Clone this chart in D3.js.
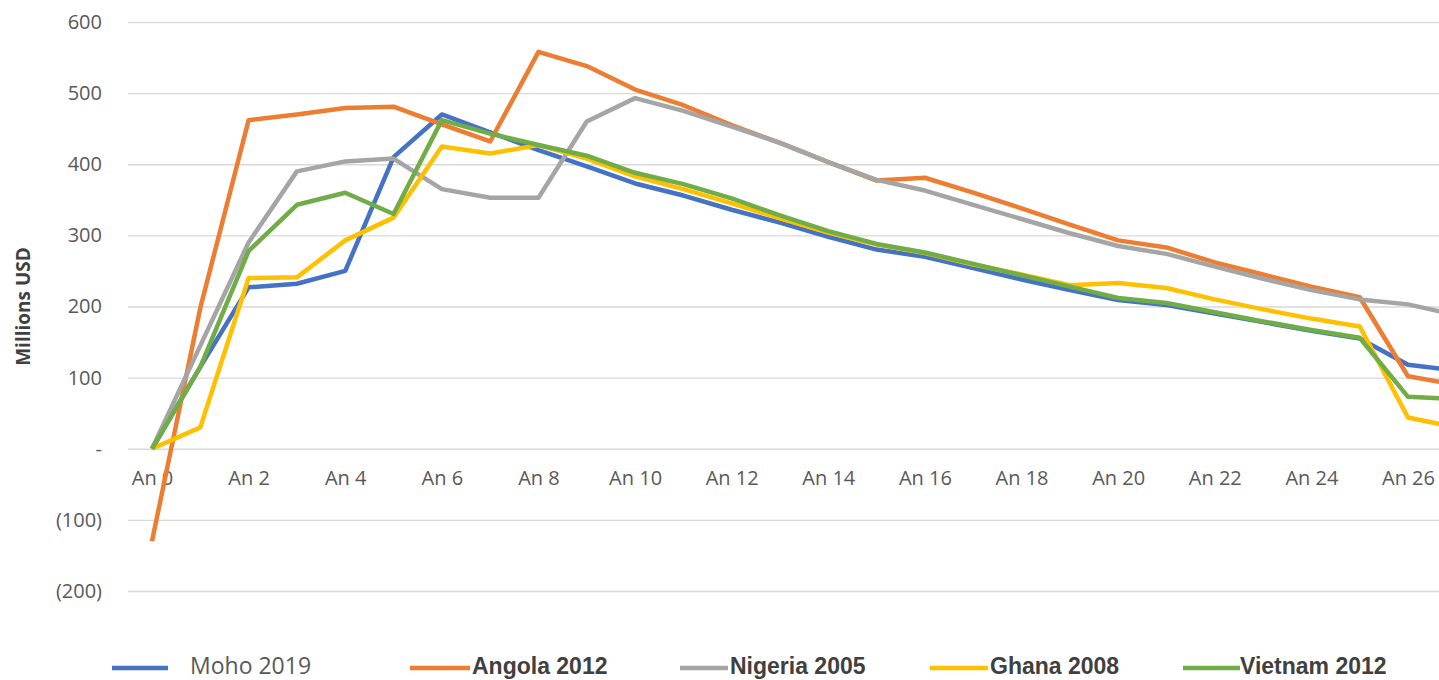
<!DOCTYPE html>
<html>
<head>
<meta charset="utf-8">
<script src="https://cdn.jsdelivr.net/npm/d3@7"></script>
<style>
  body { margin: 0; background: #fff; }
  svg { display: block; font-family: "Liberation Sans Narrow", "Open Sans", sans-serif; }
</style>
</head>
<body>
<div id="chart"></div>
<script>
// years An 0 .. An 27 (last one runs past the right edge)
var years = d3.range(0, 28);
var yTicks = [-200, -100, 0, 100, 200, 300, 400, 500, 600];
var xTicks = d3.range(0, 27, 2);

var seriesNames = ["Moho 2019", "Angola 2012", "Nigeria 2005", "Ghana 2008", "Vietnam 2012"];
var seriesColors = ["#4472C4", "#ED7D31", "#A5A5A5", "#FFC000", "#70AD47"];

var moho = [0, 115, 227, 232, 250, 410, 470, 445, 420, 397, 373, 356, 336, 318, 298, 280, 270, 254, 238, 223, 209, 202, 190, 178, 166, 155, 118, 110];
var angola = [-130, 198, 462, 470, 479, 481, 456, 432, 558, 538, 505, 483, 455, 430, 403, 377, 381, 360, 338, 315, 293, 283, 262, 245, 228, 213, 102, 90];
var nigeria = [0, 145, 290, 390, 404, 408, 365, 353, 353, 460, 493, 475, 453, 430, 403, 378, 363, 343, 323, 303, 285, 274, 256, 239, 223, 210, 203, 188];
var ghana = [0, 30, 240, 241, 293, 325, 425, 415, 427, 408, 383, 365, 345, 324, 304, 287, 275, 259, 245, 230, 233, 226, 210, 196, 183, 172, 44, 30];
var vietnam = [0, 115, 278, 343, 360, 330, 462, 443, 427, 412, 388, 372, 352, 328, 306, 288, 276, 260, 244, 228, 212, 205, 192, 179, 167, 156, 73, 70];

var seriesValues = [moho, angola, nigeria, ghana, vietnam];

var width = 1439, height = 680;

var svg = d3.select("#chart")
  .append("svg")
  .attr("width", width)
  .attr("height", height);

var x = d3.scaleLinear()
  .domain([0, 26])
  .range([152, 1408]);

var y = d3.scaleLinear()
  .domain([-200, 600])
  .range([591, 22]);

var textColor = "#595959";

// gridlines + y labels
var yAxis = svg.append("g")
  .attr("transform", "translate(128,0)")
  .call(d3.axisLeft(y)
    .tickValues(yTicks)
    .tickSize(-(width - 128))
    .tickPadding(26)
    .tickFormat(function (d) {
      if (d === 0) return "-";
      if (d < 0) return "(" + Math.abs(d) + ")";
      return d;
    }));
yAxis.select(".domain").remove();
yAxis.selectAll("line").attr("stroke", "#D9D9D9").attr("stroke-width", 1.3);
yAxis.selectAll("text")
  .attr("fill", textColor)
  .style("font-family", "'Open Sans', sans-serif")
  .style("font-size", "20px");

// x labels
var xAxis = svg.append("g")
  .attr("transform", "translate(0," + y(0) + ")")
  .call(d3.axisBottom(x).tickValues(xTicks).tickSize(0).tickPadding(22)
    .tickFormat(function (d) { return "An " + d; }));
xAxis.select(".domain").remove();
xAxis.selectAll("text")
  .attr("fill", textColor)
  .style("font-family", "'Open Sans', sans-serif")
  .style("font-size", "20px");

// y axis title
svg.append("text")
  .attr("transform", "translate(30," + y(200) + ") rotate(-90)")
  .attr("text-anchor", "middle")
  .attr("fill", "#404040")
  .style("font-family", "'Open Sans', sans-serif")
  .style("font-weight", "bold")
  .style("font-size", "19px")
  .text("Millions USD");

// lines
var line = d3.line()
  .x(function (d, i) { return x(years[i]); })
  .y(function (d) { return y(d); });

svg.append("g")
  .selectAll("path")
  .data(seriesValues)
  .enter()
  .append("path")
  .attr("d", line)
  .attr("fill", "none")
  .attr("stroke", function (d, i) { return seriesColors[i]; })
  .attr("stroke-width", 4.5)
  .attr("stroke-linejoin", "round");

// legend
var legendLine = [[112, 168], [410, 470], [680, 728], [930, 988], [1183, 1240]];
var legendText = [190, 472, 730, 990, 1240];
var legend = svg.append("g");
seriesNames.forEach(function (name, i) {
  legend.append("line")
    .attr("x1", legendLine[i][0]).attr("x2", legendLine[i][1])
    .attr("y1", 668).attr("y2", 668)
    .attr("stroke", seriesColors[i])
    .attr("stroke-width", 4.5);
  legend.append("text")
    .attr("x", legendText[i])
    .attr("y", 674)
    .attr("fill", i === 0 ? textColor : "#404040")
    .style("font-family", i === 0 ? "'Open Sans', sans-serif" : "'Liberation Sans Narrow', sans-serif")
    .style("font-weight", i === 0 ? "normal" : "bold")
    .style("font-size", "23px")
    .text(name);
});
</script>
</body>
</html>
